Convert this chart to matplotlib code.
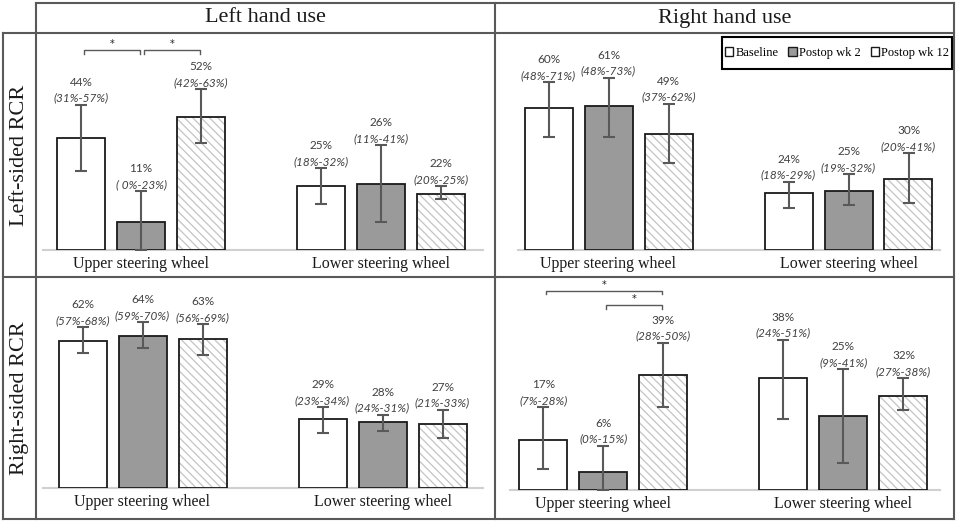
import matplotlib
matplotlib.use("Agg")
import matplotlib.pyplot as plt
from matplotlib.lines import Line2D
from matplotlib.patches import Rectangle, Patch

W, H = 958, 523
fig = plt.figure(figsize=(W / 100, H / 100), dpi=100)

# ---------------- data ----------------
col_titles = ["Left hand use", "Right hand use"]
row_titles = ["Left-sided RCR", "Right-sided RCR"]
categories = ["Upper steering wheel", "Lower steering wheel"]
series = ["Baseline", "Postop wk 2", "Postop wk 12"]

# values per series: [upper, lower]
ll_mean = [[44, 25], [11, 26], [52, 22]]
ll_lo = [[31, 18], [0, 11], [42, 20]]
ll_hi = [[57, 32], [23, 41], [63, 25]]

lr_mean = [[60, 24], [61, 25], [49, 30]]
lr_lo = [[48, 18], [48, 19], [37, 20]]
lr_hi = [[71, 29], [73, 32], [62, 41]]

rl_mean = [[62, 29], [64, 28], [63, 27]]
rl_lo = [[57, 23], [59, 24], [56, 21]]
rl_hi = [[68, 34], [70, 31], [69, 33]]

rr_mean = [[17, 38], [6, 25], [39, 32]]
rr_lo = [[7, 24], [0, 9], [28, 27]]
rr_hi = [[28, 51], [15, 41], [50, 38]]

# significance brackets: (category, series a, series b)
ll_sig = [(0, 0, 1), (0, 1, 2)]
rr_sig = [(0, 0, 2), (0, 1, 2)]

# ---------------- style ----------------
SERIF = "Liberation Serif"
SANS = "Lato"
LINE = "#595959"
TXT = "#404040"
fills = ["white", "#9a9a9a", "white"]
UNIT = 240.0       # px between category centres
BW = 48 / UNIT     # bar width
OFF = 60 / UNIT    # series offset
plt.rcParams["hatch.linewidth"] = 0.9


def fx(x):
    return x / W


def fy(y):
    return 1 - y / H


# table grid lines (figure pixel layout)
def hline(y, x0, x1):
    fig.add_artist(Line2D([fx(x0), fx(x1)], [fy(y), fy(y)], color=LINE, lw=1.5,
                          transform=fig.transFigure, solid_capstyle="projecting"))


def vline(x, y0, y1):
    fig.add_artist(Line2D([fx(x), fx(x)], [fy(y0), fy(y1)], color=LINE, lw=1.5,
                          transform=fig.transFigure, solid_capstyle="projecting"))


hline(3, 36, 954)
hline(33, 3, 954)
hline(277, 3, 954)
hline(519, 3, 954)
vline(3, 33, 519)
vline(36, 3, 519)
vline(495, 3, 519)
vline(954, 3, 519)

fig.text(fx(265.5), fy(18), col_titles[0], family=SERIF, fontsize=16, ha="center", va="center", color="#1a1a1a")
fig.text(fx(724.5), fy(18), col_titles[1], family=SERIF, fontsize=16, ha="center", va="center", color="#1a1a1a")
fig.text(fx(19.5), fy(155), row_titles[0], family=SERIF, fontsize=16, ha="center", va="center", rotation=90, color="#1a1a1a")
fig.text(fx(19.5), fy(398), row_titles[1], family=SERIF, fontsize=16, ha="center", va="center", rotation=90, color="#1a1a1a")

# panel layout: left, right, baseline, top, centre of first group (px), px per %
panels = [
    (ll_mean, ll_lo, ll_hi, ll_sig, (43, 483, 250, 40, 141, 2.55), True, [78.4, 78.4]),
    (lr_mean, lr_lo, lr_hi, [], (518, 940, 250, 40, 608.5, 2.36), False, []),
    (rl_mean, rl_lo, rl_hi, [], (43, 483, 488, 282, 142.5, 2.37), False, []),
    (rr_mean, rr_lo, rr_hi, rr_sig, (510, 940, 490, 282, 603.5, 2.95), False, [67.5, 62.7]),
]

for mean, lo, hi, sig, (L, R, B, T, C0, S), pad, sig_y in panels:
    ax = fig.add_axes([fx(L), fy(B), (R - L) / W, (B - T) / H])
    ax.set_xlim((L - C0) / UNIT, (R - C0) / UNIT)
    ax.set_ylim(0, (B - T) / S)
    for s in range(3):
        xs = [c + (s - 1) * OFF for c in range(len(categories))]
        if s == 2:
            ax.bar(xs, mean[s], width=BW, color="white", edgecolor="#c4c4c4",
                   hatch="\\\\\\\\", linewidth=0, zorder=2)
            ax.bar(xs, mean[s], width=BW, color="none", edgecolor="#1a1a1a",
                   linewidth=1.3, zorder=3)
        else:
            ax.bar(xs, mean[s], width=BW, color=fills[s], edgecolor="#1a1a1a",
                   linewidth=1.3, zorder=3)
        yerr = [[m - l for m, l in zip(mean[s], lo[s])],
                [h - m for m, h in zip(mean[s], hi[s])]]
        ax.errorbar(xs, mean[s], yerr=yerr, fmt="none", ecolor=LINE, elinewidth=1.5,
                    capsize=4.5, capthick=1.5, zorder=4)
        for x, m, l, h in zip(xs, mean[s], lo[s], hi[s]):
            lo_txt = f"{l:2d}" if pad else f"{l}"
            ax.annotate(f"({lo_txt}%-{h}%)", xy=(x, h), xytext=(0, 3), textcoords="offset pixels",
                        ha="center", va="baseline", fontsize=8.5, family=SANS, style="italic",
                        color=TXT, annotation_clip=False, zorder=5)
            ax.annotate(f"{m}%", xy=(x, h), xytext=(0, 19), textcoords="offset pixels",
                        ha="center", va="baseline", fontsize=8.5, family=SANS,
                        color=TXT, annotation_clip=False, zorder=5)
    # significance brackets
    for (c, a, b), yb in zip(sig, sig_y):
        xa = c + (a - 1) * OFF + 0.012
        xb = c + (b - 1) * OFF - 0.006
        tick = 3.5 / S
        ax.plot([xa, xa, xb, xb], [yb - tick, yb, yb, yb - tick], color=LINE, lw=1.0,
                clip_on=False, zorder=5)
        ax.annotate("*", xy=((xa + xb) / 2, yb), xytext=(0, 1), textcoords="offset pixels",
                    ha="center", va="bottom", fontsize=7, color="#222222",
                    annotation_clip=False)
    for sp in ["top", "right", "left"]:
        ax.spines[sp].set_visible(False)
    ax.spines["bottom"].set_color("#d0d0d0")
    ax.spines["bottom"].set_linewidth(1.5)
    ax.set_yticks([])
    ax.set_xticks(range(len(categories)))
    ax.set_xticklabels(categories, family=SERIF, fontsize=11.5, color="#1a1a1a")
    ax.tick_params(axis="x", length=0, pad=4)
    ax.patch.set_visible(False)

# legend (box + entries)
fig.add_artist(Rectangle((fx(722), fy(69)), (952 - 722) / W, 32 / H, transform=fig.transFigure,
                         fill=False, edgecolor="black", linewidth=1.5))
handles = [Patch(facecolor=fills[i], edgecolor="#1a1a1a", linewidth=1.0) for i in range(3)]
fig.legend(handles, series, loc="center", bbox_to_anchor=(fx(837), fy(53)), ncol=3,
           frameon=False, prop={"family": SERIF, "size": 9}, handlelength=0.7,
           handleheight=0.7, handletextpad=0.15, columnspacing=0.8, borderpad=0)

fig.savefig("out.png", dpi=100)
